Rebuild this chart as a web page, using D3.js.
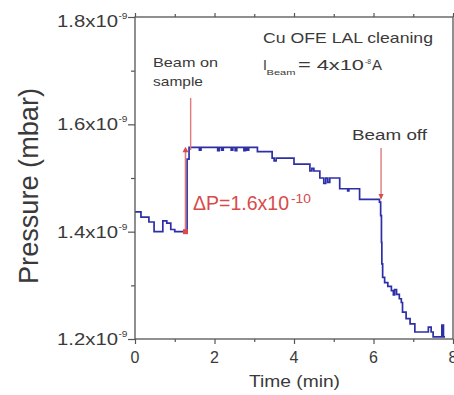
<!DOCTYPE html>
<html><head><meta charset="utf-8">
<script src="https://cdn.jsdelivr.net/npm/d3@7"></script>
<style>body{margin:0;background:#fff}svg{display:block}text{font-family:Arial,"Liberation Sans",sans-serif}</style>
</head><body><svg id="c" width="454" height="395"></svg>
<script>
// time in minutes, pressure in units of 1e-9 mbar
const timeMin = [0,0.15,0.35,0.48,0.70,0.80,0.90,1.00,1.31,1.36,1.62,1.66,2.08,2.12,2.18,2.22,2.42,2.46,2.52,2.56,2.74,2.78,2.82,2.86,3.08,3.45,3.50,3.55,4.00,4.40,4.45,4.50,4.65,4.75,4.80,4.85,4.90,5.15,5.35,5.38,5.65,6.15,6.18,6.20,6.21,6.23,6.28,6.36,6.45,6.50,6.53,6.58,6.65,6.70,6.73,6.82,6.92,7.04,7.38,7.45,7.50,7.72,7.76,7.80];
const pressure = [1.437,1.427,1.418,1.400,1.420,1.416,1.404,1.400,1.535,1.557,1.552,1.557,1.551,1.557,1.552,1.557,1.552,1.557,1.551,1.557,1.551,1.557,1.552,1.557,1.549,1.537,1.532,1.537,1.526,1.513,1.518,1.513,1.500,1.490,1.500,1.492,1.500,1.480,1.476,1.480,1.460,1.455,1.430,1.380,1.340,1.315,1.305,1.298,1.290,1.282,1.292,1.283,1.275,1.268,1.250,1.238,1.228,1.213,1.222,1.213,1.204,1.226,1.204,1.204];
const xTicks = [0,2,4,6,8];
const xMinor = [1,3,5,7];
const yTicks = [1.2,1.4,1.6,1.8];
const yMinor = [1.3,1.5,1.7];
const yTickLabels = ["1.2x10","1.4x10","1.6x10","1.8x10"];
const yTickExp = "-9";

const svg = d3.select("#c");
const L = 135, R = 453, T = 17, B = 339;
const x = d3.scaleLinear().domain([0,8]).range([L,R]);
const y = d3.scaleLinear().domain([1.2,1.8]).range([B,T]);
const axisCol = "#555", textCol = "#3a3a3a";

// clip
svg.append("clipPath").attr("id","clip").append("rect").attr("x",L).attr("y",T).attr("width",R-L).attr("height",B-T);

// data line
const data = timeMin.map((t,i)=>({t, p: pressure[i]}));
svg.append("path").datum(data)
  .attr("clip-path","url(#clip)")
  .attr("fill","none").attr("stroke","#2d2fa6").attr("stroke-width",1.7)
  .attr("d", d3.line().x(d=>x(d.t)).y(d=>y(d.p)).curve(d3.curveStepAfter));

// frame
svg.append("rect").attr("x",L).attr("y",T).attr("width",R-L).attr("height",B-T)
  .attr("fill","none").attr("stroke",axisCol).attr("stroke-width",1.3);

function styleAxis(g){ g.select(".domain").remove(); g.selectAll("line").attr("stroke",axisCol).attr("stroke-width",1.2); }
// bottom axis
svg.append("g").attr("transform",`translate(0,${B})`).call(d3.axisBottom(x).tickValues(xTicks).tickSize(5).tickFormat("")).call(styleAxis);
svg.append("g").attr("transform",`translate(0,${B})`).call(d3.axisBottom(x).tickValues(xMinor).tickSize(3).tickFormat("")).call(styleAxis);
// top axis
svg.append("g").attr("transform",`translate(0,${T})`).call(d3.axisTop(x).tickValues(xTicks).tickSize(4).tickFormat("")).call(styleAxis);
svg.append("g").attr("transform",`translate(0,${T})`).call(d3.axisTop(x).tickValues(xMinor).tickSize(3).tickFormat("")).call(styleAxis);
// left axis
svg.append("g").attr("transform",`translate(${L},0)`).call(d3.axisLeft(y).tickValues(yTicks).tickSize(7).tickFormat("")).call(styleAxis);
svg.append("g").attr("transform",`translate(${L},0)`).call(d3.axisLeft(y).tickValues(yMinor).tickSize(4).tickFormat("")).call(styleAxis);

// x tick labels
xTicks.forEach(v=>{
  svg.append("text").attr("x",x(v)).attr("y",363).attr("text-anchor","middle")
    .attr("font-size",16).attr("fill",textCol).text(v);
});
// y tick labels
yTicks.forEach((v,i)=>{
  const yy = y(v) + (i===yTicks.length-1 ? 9.5 : 6);
  svg.append("text").attr("x",57).attr("y",yy).attr("font-size",16).attr("fill",textCol)
    .attr("textLength",61).attr("lengthAdjust","spacingAndGlyphs").text(yTickLabels[i]);
  svg.append("text").attr("x",118.5).attr("y",yy-8).attr("font-size",9).attr("fill",textCol)
    .attr("textLength",9).attr("lengthAdjust","spacingAndGlyphs").text(yTickExp);
});

// axis titles
svg.append("text").attr("x",294.5).attr("y",386.5).attr("text-anchor","middle").attr("font-size",16)
  .attr("fill",textCol).attr("textLength",91).attr("lengthAdjust","spacingAndGlyphs").text("Time (min)");
svg.append("text").attr("transform","translate(38,186) rotate(-90)").attr("text-anchor","middle")
  .attr("font-size",28).attr("fill",textCol).attr("textLength",196).attr("lengthAdjust","spacingAndGlyphs").text("Pressure (mbar)");

// annotations
function txt(xx,yy,s,size,len,col){
  const t = svg.append("text").attr("x",xx).attr("y",yy).attr("font-size",size).attr("fill",col||textCol).text(s);
  if(len) t.attr("textLength",len).attr("lengthAdjust","spacingAndGlyphs");
  return t;
}
txt(153,66.5,"Beam on",13,65);
txt(153,86,"sample",13,50);
txt(263,43,"Cu OFE LAL cleaning",15,170);
txt(263,69.5,"I",14);
txt(266.5,74.5,"Beam",7,29);
txt(298,69.5,"= 4x10",14,66);
txt(365,63.5,"-8",8,6);
txt(372,69.5,"A",14,10);
txt(352,140,"Beam off",14,75);

const red = "#d94a4a", redLine = "#e07a7a";
txt(193,210,"ΔP=1.6x10",20,96,red);
txt(291,202.5,"-10",12,20,red);

// beam-on arrow
const tOn = 1.40, tDP = 1.27, tOff = 6.19;
svg.append("line").attr("x1",x(tOn)).attr("x2",x(tOn)).attr("y1",98).attr("y2",y(1.552))
  .attr("stroke",redLine).attr("stroke-width",1.4);
// delta P line
svg.append("line").attr("x1",x(tDP)).attr("x2",x(tDP)).attr("y1",y(1.400)).attr("y2",y(1.552))
  .attr("stroke",redLine).attr("stroke-width",1.6);
svg.append("path").attr("d",`M${x(tDP)-3},${y(1.548)} L${x(tDP)},${y(1.558)} L${x(tDP)+3},${y(1.548)} Z`).attr("fill",red);
svg.append("rect").attr("x",x(tDP)-2.5).attr("y",y(1.400)-2.5).attr("width",5).attr("height",5).attr("fill",red);
// beam-off arrow
svg.append("line").attr("x1",x(tOff)).attr("x2",x(tOff)).attr("y1",148).attr("y2",y(1.462))
  .attr("stroke",redLine).attr("stroke-width",1.4);
svg.append("path").attr("d",`M${x(tOff)-2.5},${y(1.470)} L${x(tOff)},${y(1.460)} L${x(tOff)+2.5},${y(1.470)} Z`).attr("fill",red);
</script></body></html>
